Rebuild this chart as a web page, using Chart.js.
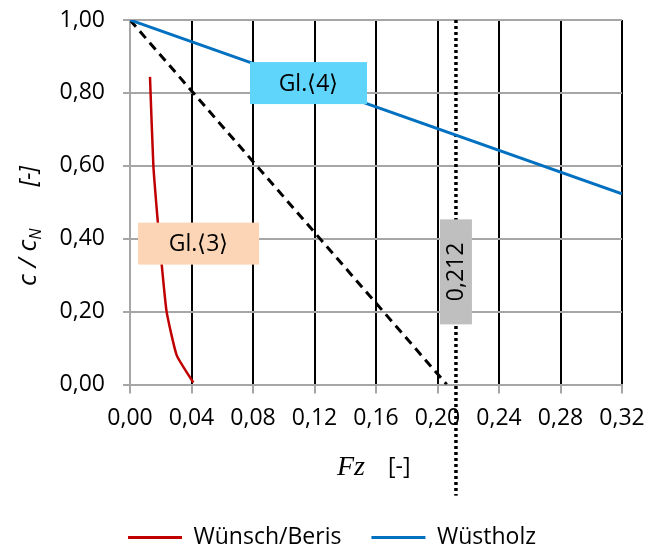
<!DOCTYPE html>
<html lang="de">
<head>
<meta charset="UTF-8" />
<title>c / cN über Fz</title>
<script src="https://cdn.jsdelivr.net/npm/chart.js@4.4.1/dist/chart.umd.min.js"></script>
<style>
  html, body { margin: 0; padding: 0; background: #fff; }
  #wrap { width: 648px; height: 551px; }
</style>
</head>
<body>
<div id="wrap"><canvas id="chart"></canvas></div>
<script>
const xTickValues = [0, 0.04, 0.08, 0.12, 0.16, 0.20, 0.24, 0.28, 0.32];
const yTickValues = [0, 0.2, 0.4, 0.6, 0.8, 1.0];

// Wünsch/Beris
const wuenschFz = [0.013, 0.0152, 0.018, 0.0206, 0.0238, 0.0304, 0.0412];
const wuenschC = [0.844, 0.60, 0.45, 0.33, 0.20, 0.08, 0.005];
// Wüstholz
const wuestFz = [0, 0.32];
const wuestC = [1.0, 0.523];
// gestrichelte Linie
const dashFz = [0, 0.206];
const dashC = [1.0, 0.0];
// Markierung Fz = 0,212
const markFz = [0.212, 0.212];
const markC = [1.0, -0.305];

const toPts = (xs, ys) => xs.map((x, i) => ({ x: x, y: ys[i] }));
const fmt = (v) => v.toFixed(2).replace('.', ',');

const sans = '"Open Sans", "Noto Sans", sans-serif';
const gridGrey = '#A6A6A6';

// Textfelder (Lage in Datenwerten)
const labelBoxes = [
  { text: 'Gl.\u27E84\u27E9', x: 0.1161, y: 0.827, w: 117, h: 42, fill: '#5FD5FB', rotate: false },
  { text: 'Gl.\u27E83\u27E9', x: 0.0446, y: 0.3865, w: 121, h: 42, fill: '#FBD5B5', rotate: false },
  { text: '0,212', x: 0.212, y: 0.309, w: 32, h: 105, fill: '#BFBFBF', rotate: true }
];

const boxPlugin = {
  id: 'boxes',
  afterDatasetsDraw(chart) {
    const ctx = chart.ctx;
    const xs = chart.scales.x, ys = chart.scales.y;
    ctx.save();
    labelBoxes.forEach((b) => {
      const cx = xs.getPixelForValue(b.x);
      const cy = ys.getPixelForValue(b.y);
      ctx.fillStyle = b.fill;
      ctx.fillRect(cx - b.w / 2, cy - b.h / 2, b.w, b.h);
      ctx.fillStyle = '#000';
      ctx.font = '23px ' + sans;
      ctx.textAlign = 'center';
      ctx.textBaseline = 'middle';
      ctx.translate(cx, cy);
      if (b.rotate) ctx.rotate(-Math.PI / 2);
      ctx.fillText(b.text, 0, 1);
      ctx.setTransform(1, 0, 0, 1, 0, 0);
    });
    ctx.restore();
  },
  afterDraw(chart) {
    const ctx = chart.ctx;
    const a = chart.chartArea;
    ctx.save();
    ctx.fillStyle = '#000';
    ctx.textBaseline = 'alphabetic';
    // x-Achsentitel
    const ty = a.bottom + 90;
    ctx.font = 'italic 28px "Liberation Serif", "DejaVu Serif", serif';
    ctx.textAlign = 'left';
    ctx.fillText('Fz', 337, ty);
    ctx.font = '23px ' + sans;
    ctx.fillText('[-]', 388, ty - 1);
    // y-Achsentitel
    ctx.translate(36, 0);
    ctx.rotate(-Math.PI / 2);
    let px = -286;
    ctx.font = 'italic 26px ' + sans;
    ctx.fillText('c / c', px, 0);
    px += ctx.measureText('c / c').width;
    ctx.font = 'italic 16px ' + sans;
    ctx.fillText('N', px, 5);
    px += ctx.measureText('N').width + 42;
    ctx.font = 'italic 23px ' + sans;
    ctx.fillText('[-]', px, 0);
    ctx.restore();
  }
};

new Chart(document.getElementById('chart'), {
  type: 'line',
  data: {
    datasets: [
      {
        label: 'Wünsch/Beris',
        data: toPts(wuenschFz, wuenschC),
        borderColor: '#C00000',
        backgroundColor: '#C00000',
        borderWidth: 2.5,
        pointRadius: 0,
        tension: 0.15
      },
      {
        label: 'Wüstholz',
        data: toPts(wuestFz, wuestC),
        borderColor: '#0070C0',
        backgroundColor: '#0070C0',
        borderWidth: 3,
        pointRadius: 0
      },
      {
        label: 'dash',
        data: toPts(dashFz, dashC),
        borderColor: '#000',
        borderWidth: 3,
        borderDash: [9, 6],
        pointRadius: 0
      },
      {
        label: 'mark',
        data: toPts(markFz, markC),
        borderColor: '#000',
        borderWidth: 3.5,
        borderDash: [3, 3],
        pointRadius: 0,
        clip: false
      }
    ]
  },
  options: {
    responsive: true,
    maintainAspectRatio: false,
    animation: false,
    layout: {
      padding: { top: 20, right: 26, left: 42, bottom: -8 }
    },
    plugins: {
      tooltip: { enabled: false },
      legend: {
        position: 'bottom',
        labels: {
          boxWidth: 54,
          boxHeight: 3,
          padding: 30,
          color: '#000',
          font: { family: sans, size: 23 },
          filter: (item) => item.datasetIndex < 2,
          generateLabels: (chart) =>
            Chart.defaults.plugins.legend.labels.generateLabels(chart).map((l) => {
              l.lineWidth = 0;
              l.lineDash = [];
              return l;
            })
        }
      }
    },
    scales: {
      x: {
        type: 'linear',
        min: 0,
        max: 0.32,
        afterBuildTicks: (s) => { s.ticks = xTickValues.map((v) => ({ value: v })); },
        afterFit: (s) => { s.height = 111.5; s.paddingLeft = 0; s.paddingRight = 0; },
        ticks: {
          callback: (v) => fmt(v),
          color: '#000',
          font: { family: sans, size: 23 },
          padding: 11,
          maxRotation: 0,
          autoSkip: false
        },
        grid: {
          color: (c) => (c.tick && c.tick.value === 0 ? gridGrey : '#000'),
          lineWidth: 2,
          tickColor: gridGrey,
          tickLength: 9
        },
        border: { color: gridGrey, width: 2 }
      },
      y: {
        type: 'linear',
        min: 0,
        max: 1,
        afterBuildTicks: (s) => { s.ticks = yTickValues.map((v) => ({ value: v })); },
        afterFit: (s) => { s.width = 88; s.paddingTop = 0; s.paddingBottom = 0; },
        ticks: {
          callback: (v) => fmt(v),
          color: '#000',
          font: { family: sans, size: 23 },
          padding: 18
        },
        grid: {
          color: gridGrey,
          lineWidth: 2,
          tickColor: gridGrey,
          tickLength: 7
        },
        border: { color: gridGrey, width: 2 }
      }
    }
  },
  plugins: [boxPlugin]
});
</script>
</body>
</html>
